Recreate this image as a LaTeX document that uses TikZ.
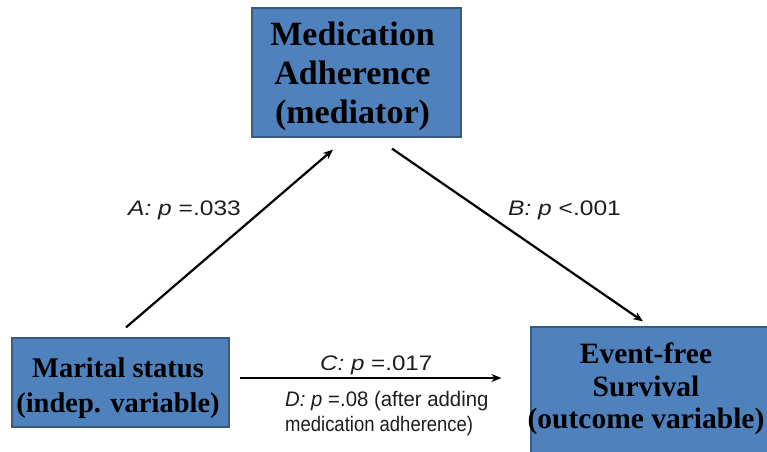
\documentclass[tikz,border=0pt]{standalone}
\usepackage{fontspec}
\setmainfont{Liberation Serif}
\newfontfamily\lsans{Liberation Sans}
\usetikzlibrary{arrows.meta,calc}
\definecolor{boxblue}{HTML}{4F81BD}
\definecolor{boxedge}{HTML}{3B5A80}
\definecolor{labgray}{HTML}{1E1E1E}
\begin{document}
\begin{tikzpicture}[x=1pt,y=-1pt,
  vbox/.style={draw=boxedge, line width=1.2pt, fill=boxblue, inner sep=0pt},
  boxtext/.style={text=black, align=center, inner sep=0pt, anchor=north},
  lab/.style={font=\lsans\fontsize{21}{25}\selectfont, text=labgray, inner sep=0pt},
  conn/.style={line width=2.2pt, -{Stealth[length=10pt,width=8pt]}}]
\path[use as bounding box] (0,0) rectangle (767,451);
\clip (0,0) rectangle (767,451);
\fill[white] (0,0) rectangle (767,451);
% boxes
\node[vbox, minimum width=209pt, minimum height=129pt] (med) at (356.5,72.5) {};
\node[vbox, minimum width=217pt, minimum height=89pt] (mar) at (120.5,382.5) {};
\node[vbox, minimum width=248pt, minimum height=134pt] (ev) at (655,394) {};
% box texts
\node[boxtext, font=\bfseries\fontsize{34}{39}\selectfont] (medtext) at (352.5,21.5) {Medication\\Adherence\\(mediator)};
\node[boxtext, font=\bfseries\fontsize{28.5}{35}\selectfont] (martext) at (118,357.4) {Marital status\\(indep. variable)};
\node[boxtext, font=\bfseries\fontsize{29.5}{32.5}\selectfont] (evtext) at (646,343) {Event-free\\Survival\\(outcome variable)};
% connectors
\draw[conn] ($(mar.north)+(5.5,-10)$) -- ($(med.south)+(-23.5,12)$);
\draw[conn] ($(med.south)+(35.5,11)$) -- ($(ev.north)+(-12,-5)$);
\draw[conn] ($(mar.east)+(10,-4.5)$) -- ($(ev.west)+(-29,-16)$);
% labels
\node[lab, anchor=base west] (la) at (128,215) {\scalebox{1.17}[1]{\itshape A: p \upshape=.033}};
\node[lab, anchor=base west] (lb) at (508,215) {\scalebox{1.17}[1]{\itshape B: p \upshape<.001}};
\node[lab, anchor=base west] (lc) at (320,370) {\scalebox{1.15}[1]{\itshape C: p \upshape=.017}};
\node[lab, anchor=north west, align=left] (ld) at (285,391.4) {\scalebox{0.97}[1]{\itshape D: p \upshape=.08 (after adding}\\\scalebox{0.88}[1]{medication adherence)}};
\end{tikzpicture}
\end{document}
